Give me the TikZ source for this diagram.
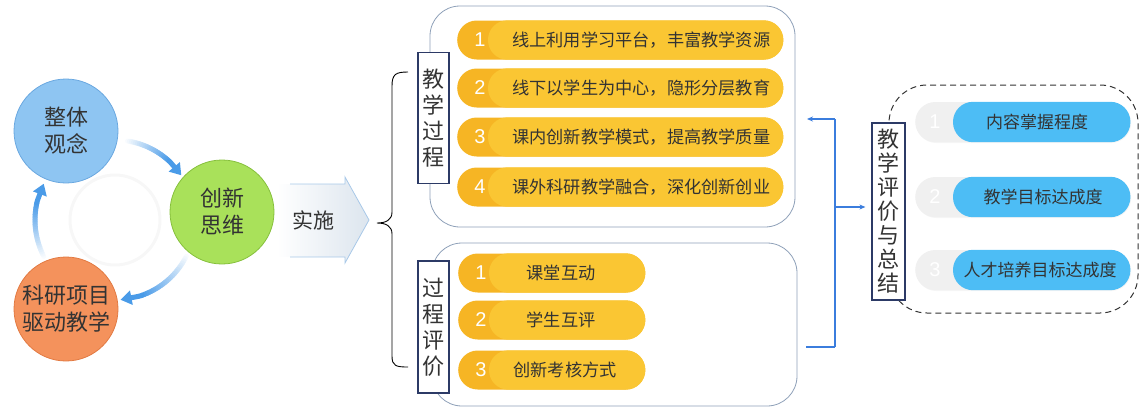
\documentclass[tikz,border=0pt]{standalone}
\usepackage{fontspec}
\newfontfamily\cjk{Noto Sans CJK SC}
\newfontfamily\numf{Liberation Sans}
\usetikzlibrary{arrows.meta,shadows}
\definecolor{arrblue}{HTML}{4A9BE8}
\definecolor{cblue}{HTML}{8EC5F2}
\definecolor{cbluedk}{HTML}{6AA8E0}
\definecolor{cgreen}{HTML}{A9E15A}
\definecolor{cgreendk}{HTML}{86C03C}
\definecolor{corange}{HTML}{F4925C}
\definecolor{corangedk}{HTML}{E27A42}
\definecolor{ydark}{HTML}{F6B524}
\definecolor{ylight}{HTML}{FAC633}
\definecolor{bpill}{HTML}{4DBDF5}
\definecolor{gpill}{HTML}{F0F0F0}
\definecolor{navy}{HTML}{2C3A66}
\definecolor{frame}{HTML}{8EA0B8}
\definecolor{linkblue}{HTML}{3B7DDD}
\definecolor{txt}{HTML}{333333}
\definecolor{sarrow}{HTML}{DCE5EE}
\definecolor{sarrowline}{HTML}{A8C8E8}
\newcommand\gradarc[3]{%
  \foreach \i in {0,...,23}{%
    \pgfmathsetmacro\aa{#1+(#2-#1)*\i/24}%
    \pgfmathsetmacro\ab{#1+(#2-#1)*(\i+1)/24}%
    \pgfmathtruncatemacro\pc{4+96*\i/23}%
    \draw[line width=5pt,line cap=round,color=arrblue!\pc!white]
      ({115+80*cos(\aa)},{220-80*sin(\aa)}) -- ({115+80*cos(\ab)},{220-80*sin(\ab)});
  }%
  \draw[line width=5pt,arrblue,-{Triangle[length=11pt,width=14pt]}]
    ({115+80*cos(#2)},{220-80*sin(#2)}) -- ({115+80*cos(#3)},{220-80*sin(#3)});
}
\newcommand\ypill[8]{% name, left x, cy, width, number, text, text x, text anchor
  \node[pillbase,fill=ydark,minimum width=#4pt] (#1) at (#2,#3) {};
  \fill[ylight,rounded corners=19.5pt] ([xshift=31pt]#1.south west) rectangle (#1.north east);
  \node[pnum] (#1n) at ([xshift=23pt]#1.west) {#5};
  \node[ptxt,anchor=#8] (#1t) at (#7,#3) {#6};
}
\newcommand\bpillm[5]{% name, cy, number, text, text x
  \node[pillbase,fill=gpill,minimum width=215pt,minimum height=40pt,rounded corners=20pt,
    drop shadow={opacity=0.08,shadow xshift=1pt,shadow yshift=-1pt}] (#1) at (915,#2) {};
  \fill[bpill,rounded corners=20pt] ([xshift=38pt]#1.south west) rectangle (#1.north east);
  \node[pnum,text=white] (#1n) at ([xshift=20pt]#1.west) {#3};
  \node[ptxt,font=\cjk\fontsize{17}{20}\selectfont] (#1t) at (#5,#2) {#4};
}
\begin{document}
\begin{tikzpicture}[x=1pt,y=-1pt,
  circ/.style={circle,minimum size=104pt,inner sep=0pt,line width=0.8pt,align=center,
    text=txt,font=\cjk\fontsize{22}{27}\selectfont},
  vbox/.style={draw=navy,line width=1.2pt,fill=white,inner sep=0pt,align=center,
    text=txt,font=\cjk\fontsize{22}{26}\selectfont,minimum width=31pt},
  pillbase/.style={inner sep=0pt,minimum height=39pt,rounded corners=19.5pt,anchor=west},
  pnum/.style={text=white,font=\numf\fontsize{20}{22}\selectfont,inner sep=0pt},
  ptxt/.style={text=txt,font=\cjk\fontsize{17.2}{20}\selectfont,inner sep=0pt},
  link/.style={linkblue,line width=1.5pt},
  linkarrow/.style={link,-{Stealth[length=6pt,width=5pt]}}
]
\useasboundingbox (0,0) rectangle (1146,408);

% faint centre ring
\draw[gray!6,line width=3pt] (115,220) circle[radius=45];

% gradient circular arrows
\gradarc{81}{46}{34}
\gradarc{-27}{-72}{-86}
\gradarc{207}{166}{153}

% circles
\node[circ,fill=cblue,draw=cbluedk] (c1) at (66,131) {整体\\观念};
\node[circ,fill=cgreen,draw=cgreendk] (c2) at (222,212) {创新\\思维};
\node[circ,fill=corange,draw=corangedk] (c3) at (66,309) {科研项目\\驱动教学};

% block arrow "实施"
\shade[left color=white,right color=sarrow]
  (277,184) -- (345,184) -- (345,177) -- (369,220) -- (345,263) -- (345,257) -- (277,257) -- cycle;
\draw[sarrowline,line width=0.8pt]
  (290,184) -- (345,184) -- (345,177) -- (369,220) -- (345,263) -- (345,257) -- (290,257);
\node[text=txt,font=\cjk\fontsize{21}{24}\selectfont,inner sep=0pt] (ss) at (313,220) {实施};

% brace
\draw[black,line width=0.9pt]
  (408,72) .. controls (396,72) and (392,74) .. (392,86) -- (392,212)
  .. controls (392,220) and (386,223) .. (377,223)
  .. controls (386,223) and (392,226) .. (392,234) -- (392,356)
  .. controls (392,366) and (396,367) .. (408,367);

% containers
\draw[frame,line width=0.8pt,rounded corners=30pt] (430,6) rectangle (795,227);
\draw[frame,line width=0.8pt,rounded corners=30pt] (432,243) rectangle (797,406);
\draw[black!80,line width=1pt,dash pattern=on 6pt off 4pt,rounded corners=38pt] (889,85) rectangle (1138,313);

% labels
\node[vbox,minimum height=131pt] (lab1) at (433.5,118) {教\\学\\过\\程};
\node[vbox,minimum height=132pt] (lab2) at (433.5,327) {过\\程\\评\\价};
\node[vbox,minimum width=33pt,minimum height=177pt,font=\cjk\fontsize{22}{24}\selectfont] (lab3) at (888.5,211.5) {教\\学\\评\\价\\与\\总\\结};

% yellow pills
\ypill{p1}{457}{40}{326}{1}{线上利用学习平台，丰富教学资源}{512}{west}
\ypill{p2}{457}{88}{326}{2}{线下以学生为中心，隐形分层教育}{512}{west}
\ypill{p3}{457}{137}{326}{3}{课内创新教学模式，提高教学质量}{512}{west}
\ypill{p4}{457}{187}{326}{4}{课外科研教学融合，深化创新创业}{512}{west}
\ypill{q1}{458}{273}{187}{1}{课堂互动}{561}{center}
\ypill{q2}{458}{320}{187}{2}{学生互评}{561}{center}
\ypill{q3}{458}{370}{187}{3}{创新考核方式}{565}{center}

% blue pills
\bpillm{r1}{122}{1}{内容掌握程度}{1037}
\bpillm{r2}{197}{2}{教学目标达成度}{1043}
\bpillm{r3}{270}{3}{人才培养目标达成度}{1040}

% blue connector
\coordinate (jt) at (835,119);
\coordinate (jm) at (835,207);
\coordinate (jb) at (835,347);
\coordinate (et) at (807,119);
\coordinate (eb) at (806,347);
\draw[link] (jt) -- (jb);
\draw[linkarrow] (jt) -- (et);
\draw[link] (jb) -- (eb);
\draw[linkarrow,shorten >=6pt] (jm) -- (jm -| lab3.west);
\end{tikzpicture}
\end{document}
